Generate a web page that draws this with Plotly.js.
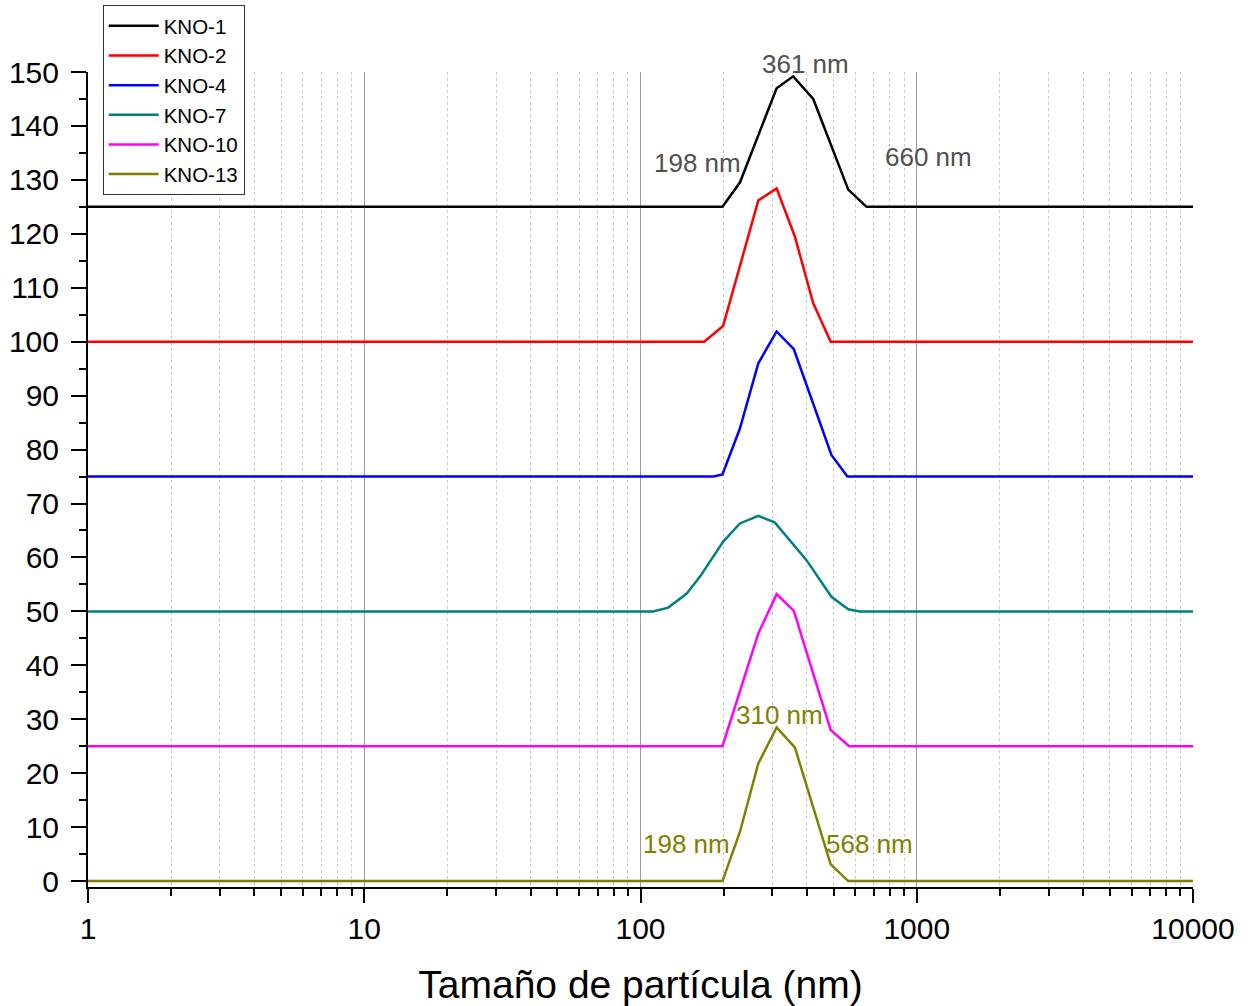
<!DOCTYPE html>
<html>
<head>
<meta charset="utf-8">
<script src="https://cdn.plot.ly/plotly-3.0.1.min.js"></script>
<style>html,body{margin:0;padding:0;background:#fff}#chart{width:1253px;height:1006px}</style>
</head>
<body>
<div id="chart"></div>
<script>
// Series names and colours
const seriesNames = ["KNO-1", "KNO-2", "KNO-4", "KNO-7", "KNO-10", "KNO-13"];
const seriesColors = ["#000000", "#ff0000", "#0000ff", "#008080", "#ff00ff", "#808000"];

// Particle size (nm) and stacked intensity values
const kno1_x = [1, 198, 229, 311, 357, 422, 565, 658, 10000];
const kno1_y = [125, 125, 129.5, 147.0, 149.2, 145.0, 128.2, 125, 125];

const kno2_x = [1, 170, 199, 267, 311, 362, 422, 488, 10000];
const kno2_y = [100, 100, 102.9, 126.2, 128.4, 119.5, 107.1, 100, 100];

const kno4_x = [1, 184, 198, 229, 267, 311, 359, 491, 561, 10000];
const kno4_y = [75, 75, 75.4, 83.9, 96.0, 101.9, 98.6, 79.0, 75, 75];

const kno7_x = [1, 111, 126, 147, 164, 199, 229, 267, 306, 347, 399, 491, 565, 622, 10000];
const kno7_y = [50, 50, 50.7, 53.3, 56.4, 62.9, 66.3, 67.7, 66.5, 63.2, 59.5, 52.7, 50.4, 50, 50];

const kno10_x = [1, 198, 267, 311, 359, 488, 569, 10000];
const kno10_y = [25, 25, 45.9, 53.2, 50.1, 28.0, 25, 25];

const kno13_x = [1, 198, 229, 267, 311, 362, 488, 565, 10000];
const kno13_y = [0, 0, 9.1, 21.8, 28.5, 24.8, 3.1, 0, 0];

// Axis ticks
const xTickVals = [1, 10, 100, 1000, 10000];
const xTickText = ["1", "10", "100", "1000", "10000"];

// Peak labels (x in nm, y in data units)
const peakLabels = ["361 nm", "198 nm", "660 nm", "310 nm", "198 nm", "568 nm"];
const peakX = [396, 161.4, 1106, 319.4, 146.7, 673.5];
const peakY = [151.5, 133.1, 134.3, 30.75, 6.94, 6.94];
const peakColors = ["#505050", "#505050", "#505050", "#808000", "#808000", "#808000"];

const xs = [kno1_x, kno2_x, kno4_x, kno7_x, kno10_x, kno13_x];
const ys = [kno1_y, kno2_y, kno4_y, kno7_y, kno10_y, kno13_y];

const FONT = "Liberation Sans, Arial, sans-serif";
const Y_RANGE = [-1.1, 150];

const traces = seriesNames.map((n, i) => ({
  type: "scatter",
  mode: "lines",
  name: n,
  x: xs[i],
  y: ys[i],
  line: {color: seriesColors[i], width: 2.5},
  cliponaxis: false
}));

// annotations above the axis range are placed on paper coordinates so they are not hidden
const annotations = peakLabels.map((t, i) => {
  const inRange = peakY[i] <= Y_RANGE[1];
  return {
    x: Math.log10(peakX[i]),
    y: inRange ? peakY[i] : (peakY[i] - Y_RANGE[0]) / (Y_RANGE[1] - Y_RANGE[0]),
    xref: "x",
    yref: inRange ? "y" : "paper",
    xanchor: "center",
    yanchor: "middle",
    text: t,
    showarrow: false,
    font: {family: FONT, size: 26, color: peakColors[i]}
  };
});

const layout = {
  width: 1253,
  height: 1006,
  paper_bgcolor: "#ffffff",
  plot_bgcolor: "#ffffff",
  margin: {l: 88, r: 60, t: 72, b: 119, autoexpand: false},
  font: {family: FONT, color: "#000000"},
  showlegend: true,
  legend: {
    x: 0.0133, y: 1.0822, xanchor: "left", yanchor: "top",
    bordercolor: "#333333", borderwidth: 1, bgcolor: "#ffffff",
    font: {family: FONT, size: 20.5, color: "#000000"},
    tracegroupgap: 0,
    itemwidth: 50
  },
  xaxis: {
    type: "log",
    range: [0, 4],
    tickmode: "array",
    tickvals: xTickVals,
    ticktext: xTickText,
    showline: true, linecolor: "#000000", linewidth: 2,
    ticks: "outside", ticklen: 14, tickwidth: 2, tickcolor: "#000000",
    tickfont: {family: FONT, size: 30, color: "#000000"},
    ticklabelstandoff: 0,
    showgrid: true, gridcolor: "#9a9a9a", gridwidth: 1,
    zeroline: false,
    minor: {
      dtick: "D1",
      ticks: "outside", ticklen: 7, tickwidth: 2, tickcolor: "#000000",
      showgrid: true, gridcolor: "#c8c8c8", gridwidth: 1, griddash: "3px,3px"
    },
    title: {text: "Tamaño de partícula (nm)", font: {family: FONT, size: 39, color: "#000000"}, standoff: 27}
  },
  yaxis: {
    range: Y_RANGE,
    tick0: 0, dtick: 10,
    showline: true, linecolor: "#000000", linewidth: 2,
    ticks: "outside", ticklen: 15, tickwidth: 2, tickcolor: "#000000",
    tickfont: {family: FONT, size: 30, color: "#000000"},
    ticklabelstandoff: 6,
    showgrid: false, zeroline: false,
    minor: {dtick: 5, ticks: "outside", ticklen: 7, tickwidth: 2, tickcolor: "#000000", showgrid: false}
  },
  annotations: annotations
};

Plotly.newPlot("chart", traces, layout, {displayModeBar: false, staticPlot: true});
</script>
</body>
</html>
